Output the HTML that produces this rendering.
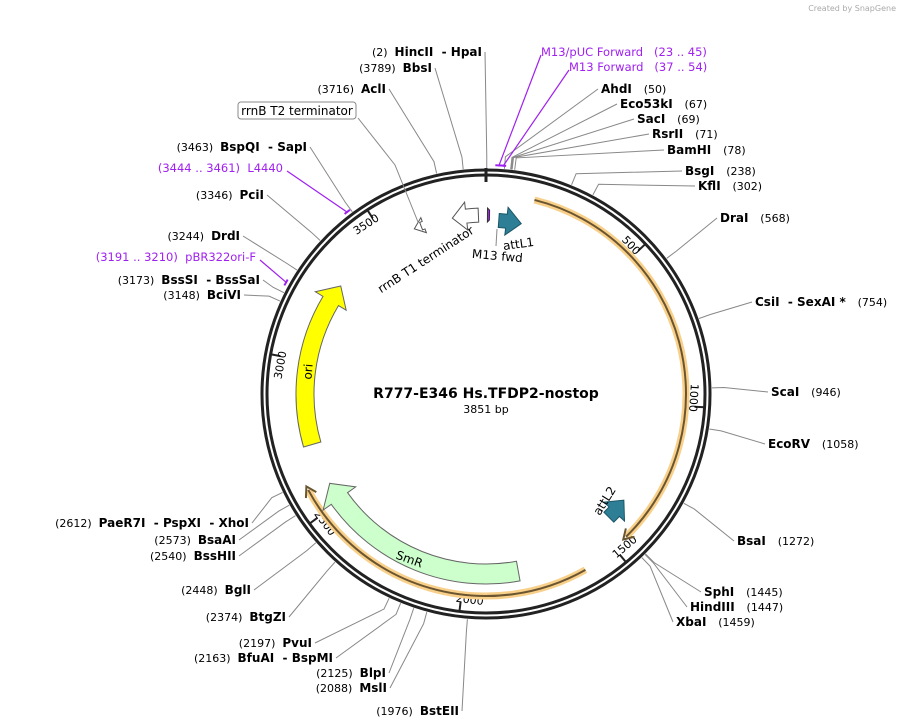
<!DOCTYPE html>
<html><head><meta charset="utf-8"><style>
body{margin:0;background:#fff;}
svg{display:block;font-family:"DejaVu Sans","Liberation Sans",sans-serif;}
.n{font-size:11px;fill:#000}
.b{font-weight:bold;font-size:12px}
.p{fill:#a020f0;font-size:11.5px}
.l{stroke:#888;stroke-width:1;fill:none}
</style></head><body>
<svg id="map" width="901" height="728" viewBox="0 0 901 728">
<text x="896" y="11" text-anchor="end" font-size="8" fill="#aaa">Created by SnapGene</text>
<g id="g"></g>
</svg>
<script>
const TOTAL=3851;
const CX=486,CY=394;
// enzyme sites
const siteBp=[2,3789,3716,3463,3346,3244,3173,3148,50,67,69,71,78,238,302,568,754,946,1058,1272,1445,1447,1459,1976,2088,2125,2163,2197,2374,2448,2540,2573,2612];
const sitePre=["(2)","(3789)","(3716)","(3463)","(3346)","(3244)","(3173)","(3148)","","","","","","","","","","","","","","","","(1976)","(2088)","(2125)","(2163)","(2197)","(2374)","(2448)","(2540)","(2573)","(2612)"];
const siteName=["HincII  - HpaI","BbsI","AclI","BspQI  - SapI","PciI","DrdI","BssSI  - BssSaI","BciVI","AhdI","Eco53kI","SacI","RsrII","BamHI","BsgI","KflI","DraI","CsiI  - SexAI *","ScaI","EcoRV","BsaI","SphI","HindIII","XbaI","BstEII","MslI","BlpI","BfuAI  - BspMI","PvuI","BtgZI","BglI","BssHII","BsaAI","PaeR7I  - PspXI  - XhoI"];
const sitePost=["","","","","","","","","(50)","(67)","(69)","(71)","(78)","(238)","(302)","(568)","(754)","(946)","(1058)","(1272)","(1445)","(1447)","(1459)","","","","","","","","","",""];
const labX=[482,432,386,307,264,240,260,241,601,620,637,652,667,685,698,720,755,771,768,737,704,690,676,459,387,386,333,312,286,251,236,236,249];
const labY=[56,72,93,151,199,240,284,299,93,108,123,138,154,175,190,222,306,396,448,545,596,611,626,715,692,677,662,647,621,594,560,544,527];
// primers
const primName=["M13/pUC Forward","M13 Forward","L4440","pBR322ori-F"];
const primRange=["(23 .. 45)","(37 .. 54)","(3444 .. 3461)","(3191 .. 3210)"];
const primBp=[34,45,3452,3200];
const primX=[541,569,283,256];
const primY=[56,71,172,261];
// features
const featStart=[3735,3600,5,45,1365,1815,2715];
const featEnd=[3825,3625,12,125,1445,2570,3280];
const ticks=[500,1000,1500,2000,2500,3000,3500];

const g=document.getElementById('g');
const NS='http://www.w3.org/2000/svg';
function ang(bp){return bp/TOTAL*2*Math.PI;}
function pt(bp,r){const a=ang(bp);return [CX+r*Math.sin(a),CY-r*Math.cos(a)];}
function mk(t,at,parent){const e=document.createElementNS(NS,t);for(const k in at)e.setAttribute(k,at[k]);(parent||g).appendChild(e);return e;}
function arc(b1,b2,r){const p1=pt(b1,r),p2=pt(b2,r);const large=(b2-b1)/TOTAL>0.5?1:0;return `M${p1[0]},${p1[1]} A${r},${r} 0 ${large} 1 ${p2[0]},${p2[1]}`;}
function arrowShape(b1,b2,ri,ro,dir,head){
  const rm=(ri+ro)/2, w=ro-ri;
  const hb=head/(2*Math.PI*rm)*TOTAL;
  let s,e,d='';
  if(dir>0){s=b1;e=b2-hb;
    const a=pt(s,ro),b=pt(e,ro),c=pt(e,ro+w*0.5),t=pt(b2,rm),c2=pt(e,ri-w*0.5),d2=pt(e,ri),f=pt(s,ri);
    d=`M${a} A${ro},${ro} 0 ${(e-s)/TOTAL>0.5?1:0} 1 ${b} L${c} L${t} L${c2} L${d2} A${ri},${ri} 0 ${(e-s)/TOTAL>0.5?1:0} 0 ${f} Z`;
  }else{s=b1+hb;e=b2;
    const a=pt(s,ro),b=pt(e,ro),d2=pt(e,ri),f=pt(s,ri),c=pt(s,ri-w*0.5),t=pt(b1,rm),c2=pt(s,ro+w*0.5);
    d=`M${a} A${ro},${ro} 0 ${(e-s)/TOTAL>0.5?1:0} 1 ${b} L${d2} A${ri},${ri} 0 ${(e-s)/TOTAL>0.5?1:0} 0 ${f} L${c} L${t} L${c2} Z`;
  }
  return d;
}
let e=mk('circle',{cx:CX,cy:CY,r:224,fill:'none',stroke:'#222','stroke-width':3});

e=mk('circle',{cx:CX,cy:CY,r:219,fill:'none',stroke:'#222','stroke-width':3});

let p1=pt(0,212),p2=pt(0,226);
e=mk('line',{x1:p1[0],y1:p1[1],x2:p2[0],y2:p2[1],stroke:'#222','stroke-width':3});

ticks.forEach(t=>{
  const a=pt(t,209),b=pt(t,219);
  let l=mk('line',{x1:a[0],y1:a[1],x2:b[0],y2:b[1],stroke:'#222','stroke-width':2});
  
  const deg=t/TOTAL*360;const c=pt(t-26,207);
  let rot=deg<120?deg:(deg<250?deg-180:deg-360);
  let tx=mk('text',{x:c[0],y:c[1],'font-size':11,'text-anchor':'middle','dominant-baseline':'middle',transform:`rotate(${rot} ${c[0]} ${c[1]})`});
  tx.textContent=t;
  
});
[[150,1450,200],[1610,2585,202]].forEach((a,i)=>{
  let h=mk('path',{d:arc(a[0],a[1],a[2]),stroke:'#f8d08a','stroke-width':7,fill:'none'});
  
  let k=mk('path',{d:arc(a[0],a[1],a[2]),stroke:'#6b5530','stroke-width':2,fill:'none'});
  
  const tipBp=a[1]+12, baseBp=a[1]-18;
  const t=pt(tipBp,a[2]),u=pt(baseBp,a[2]+6),v=pt(baseBp,a[2]-6);
  let ah=mk('path',{d:`M${u} L${t} L${v}`,stroke:'#6b5530','stroke-width':2,fill:'none'});
  
});
const fR=[[172,186,-1,'#fff','#555','rrnB-T1-terminator',14],[176,184,-1,'#fff','#555','rrnB-T2-arrow',10],[172,186,1,'#a020f0','#333','m13-fwd',0],[167,181,1,'#2e7f96','#1b5566','attL1',15],[167,181,-1,'#2e7f96','#1b5566','attL2',15],[170,190,1,'#ccffcc','#666','smr-gene',18],[172,190,1,'#ffff00','#666','ori',18]];
featStart.forEach((s,i)=>{
  const f=fR[i];
  let d;
  if(i===2){d=`M${pt(s,f[0])} L${pt(s,f[1])} L${pt(featEnd[i],f[1]-2)} L${pt(featEnd[i],f[0]+2)} Z`;}
  else d=arrowShape(s,featEnd[i],f[0],f[1],f[2],f[6]);
  let pth=mk('path',{d:d,fill:f[3],stroke:f[4],'stroke-width':1});
  
});
siteBp.forEach((bp,i)=>{
  const left=sitePre[i]!=='';
  const a=pt(bp,226);
  const ex=left?labX[i]+3:labX[i]-3, ey=labY[i]-4;
  const mx=pt(bp,238);
  let ln=mk('polyline',{points:`${a} ${mx} ${ex},${ey}`,class:'l'});
  
  let t=mk('text',{x:labX[i],y:labY[i],'text-anchor':left?'end':'start',class:'n'});
  
  if(left){let s1=mk('tspan',{},t);s1.textContent=sitePre[i]+'  ';let s2=mk('tspan',{class:'b'},t);s2.textContent=siteName[i];}
  else{let s2=mk('tspan',{class:'b'},t);s2.textContent=siteName[i]+'  ';let s1=mk('tspan',{},t);s1.textContent=' '+sitePost[i];}
  t.style.whiteSpace='pre';
});
primBp.forEach((bp,i)=>{
  const right=i<2;
  const a=pt(bp,228);
  let ln=mk('line',{x1:a[0],y1:a[1],x2:right?primX[i]:primX[i]+4,y2:primY[i]-1,stroke:'#a020f0','stroke-width':1.2});
  
  const b1=pt(bp-9,229),b2=pt(bp+9,229);
  let m=mk('line',{x1:b1[0],y1:b1[1],x2:b2[0],y2:b2[1],stroke:'#a020f0','stroke-width':2});
  
  let t=mk('text',{x:primX[i],y:primY[i],'text-anchor':right?'start':'end',class:'p'});
  t.style.whiteSpace='pre';
  t.textContent=right?primName[i]+'   '+primRange[i]:primRange[i]+'  '+primName[i];
  
});
let bx=mk('rect',{x:238,y:102,width:118,height:17,rx:3,fill:'#fff',stroke:'#888'});

let bt=mk('text',{x:297,y:115,'text-anchor':'middle','font-size':12});bt.textContent='rrnB T2 terminator';

let bl=mk('polyline',{points:'358,118 395,165 418,222',class:'l'});

function lab(txt,x,y,rot,name,size){let t=mk('text',{x:x,y:y,'font-size':size||12,'text-anchor':'middle',transform:`rotate(${rot} ${x} ${y})`});t.textContent=txt;}
lab('rrnB T1 terminator',428,263,-33,'rrnb-t1-label');
lab('attL1',519,248,-8,'attl1-label');
lab('M13 fwd',497,260,5,'m13-fwd-label');
let ml=mk('line',{x1:497,y1:229,x2:496,y2:246,stroke:'#888'});
lab('ori',312,372,-85,'ori-label');
lab('SmR',408,563,20,'smr-label');
lab('attL2',608,503,-58,'attl2-label');
let t1=mk('text',{x:CX,y:398,'text-anchor':'middle','font-size':14,'font-weight':'bold'});t1.textContent='R777-E346 Hs.TFDP2-nostop';

let t2=mk('text',{x:CX,y:413,'text-anchor':'middle','font-size':11});t2.textContent='3851 bp';

</script>
</body></html>
